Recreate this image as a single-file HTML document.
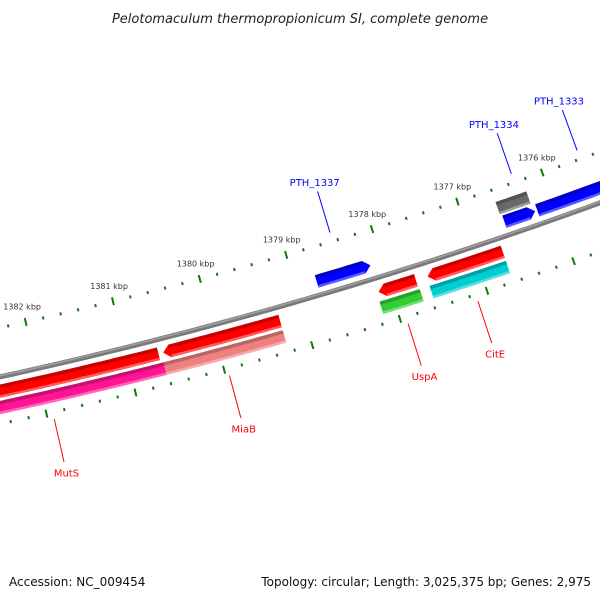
<!DOCTYPE html>
<html><head><meta charset="utf-8"><style>
html,body{margin:0;padding:0;background:#fff;}
svg{display:block;font-family:"DejaVu Sans","Liberation Sans",sans-serif;}
</style></head><body>
<svg id="map" width="600" height="600" viewBox="0 0 600 600" xmlns="http://www.w3.org/2000/svg">
<rect width="600" height="600" fill="#fff"/>
<text x="300" y="23" text-anchor="middle" font-size="13" font-style="italic" fill="#222">Pelotomaculum thermopropionicum SI, complete genome</text>
<g id="ticks"></g>
<g id="backbone"></g>
<g id="feats"></g>
<g id="labels"></g>
<text x="9" y="586" font-size="12" fill="#111">Accession: NC_009454</text>
<text x="591" y="586" text-anchor="end" font-size="12" fill="#111">Topology: circular; Length: 3,025,375 bp; Genes: 2,975</text>
</svg>
<script>
// data
const featStart = [1380652, 1379266, 1377706, 1376700, 1380622, 1379266, 1377695, 1376700, 1378136, 1376215, 1374000, 1376237];
const featEnd   = [1383000, 1380599, 1378136, 1377571, 1383000, 1380622, 1378158, 1377582, 1378757, 1376576, 1376192, 1376599];
const featTrack = [14, 14, 14, 14, 30, 30, 30, 30, -14, -14, -14, -29];
const featDir   = ['N', 'L', 'L', 'L', 'N', 'N', 'N', 'N', 'R', 'R', 'N', 'N'];
const featColor = ['#ff0000', '#ff0000', '#ff0000', '#ff0000', '#ff1493', '#f08080', '#32cd32', '#00ced1', '#0000ff', '#0000ff', '#0000ff', '#696969'];
const labelText = ['PTH_1337', 'PTH_1334', 'PTH_1333', 'UspA', 'CitE', 'MiaB', 'MutS'];
const labelBp   = [1378460, 1376330, 1375550, 1377930, 1377130, 1379960, 1381930];
const labelSide = [-1, -1, -1, 1, 1, 1, 1];
const tickStep = 200;
const tickFrom = 1373800, tickTo = 1383600;

// geometry
const cx = -985, cy = -4140, R = 4623, k = 1.96e-5;
const th0 = Math.atan2(229 - cy, 372 - cx);
function ang(bp){ return th0 + (bp - 1378000) * k; }
function pt(bp, r){ const a = ang(bp); return [cx + r * Math.cos(a), cy + r * Math.sin(a)]; }
const NS = 'http://www.w3.org/2000/svg';
function mk(tag, attrs, parent){ const e = document.createElementNS(NS, tag); for (const a in attrs) e.setAttribute(a, attrs[a]); parent.appendChild(e); return e; }
function arcPts(b1, b2, r, n){ const p = []; for (let i = 0; i <= n; i++){ const b = b1 + (b2 - b1) * i / n; p.push(pt(b, r)); } return p; }
function poly(pts){ return pts.map(p => p[0].toFixed(1) + ',' + p[1].toFixed(1)).join(' '); }

// backbone
const bb = document.getElementById('backbone');
let l1 = mk('polyline', {points: poly(arcPts(1373000, 1384500, R, 60)), fill: 'none', stroke: '#7a7a7a', 'stroke-width': 5}, bb);


let l2 = mk('polyline', {points: poly(arcPts(1373000, 1384500, R - 1, 60)), fill: 'none', stroke: '#a0a0a0', 'stroke-width': 1.5}, bb);



// ticks
const tg = document.getElementById('ticks');
for (let b = tickFrom; b <= tickTo; b += tickStep){
  const major = (b % 1000 === 0);
  for (const side of [-1, 1]){
    const rc = R + side * (side < 0 ? 48 : 46);
    const hh = major ? 4 : 1.5;
    const p1 = pt(b, rc - hh), p2 = pt(b, rc + hh);
    const t = mk('line', {x1: p1[0], y1: p1[1], x2: p2[0], y2: p2[1], stroke: '#0b7a0b', 'stroke-width': 2}, tg);
    
    
  }
  if (major){
    const p = pt(b, R - 64);
    const tx = mk('text', {x: p[0], y: p[1] + 3, 'text-anchor': 'middle', 'font-size': 8, fill: '#333'}, tg);
    tx.textContent = (b / 1000) + ' kbp';
    
    
  }
}

// features
const fg = document.getElementById('feats');
const headBp = 7 / (R * k);
const h = 6.5;
for (let i = 0; i < featStart.length; i++){
  const s = featStart[i], e = featEnd[i], r = R + featTrack[i], d = featDir[i], c = featColor[i];
  let bs = s, be = e;
  if (d === 'R') bs = s + headBp;
  if (d === 'L') be = e - headBp;
  let pts = arcPts(bs, be, r + h, 30);
  if (d === 'L'){ pts.push(pt(e, r)); }
  pts = pts.concat(arcPts(be, bs, r - h, 30));
  if (d === 'R'){ pts.push(pt(s, r)); }
  const g = mk('g', {}, fg);
  
  
  mk('polygon', {points: poly(pts), fill: c}, g);
  const dark = arcPts(bs, be, r - h, 30).concat(arcPts(be, bs, r - h + 3.5, 30));
  mk('polygon', {points: poly(dark), fill: '#000', 'fill-opacity': 0.22}, g);
  const light = arcPts(bs, be, r + h - 2.5, 30).concat(arcPts(be, bs, r + h, 30));
  mk('polygon', {points: poly(light), fill: '#fff', 'fill-opacity': 0.35}, g);
}

// labels
const lg = document.getElementById('labels');
for (let i = 0; i < labelText.length; i++){
  const side = labelSide[i], b = labelBp[i];
  const col = side < 0 ? '#0000ff' : '#ff0000';
  const r1 = side < 0 ? R - 57 : R + 53;
  const r2 = side < 0 ? R - 100 : R + 97;
  const r3 = side < 0 ? R - 110 : R + 108;
  const p1 = pt(b, r1), p2 = pt(b, r2);
  const ln = mk('line', {x1: p1[0], y1: p1[1], x2: p2[0], y2: p2[1], stroke: col, 'stroke-width': 1}, lg);
  
  
  const p = pt(b, r3);
  const tx = mk('text', {x: p[0], y: p[1] + 4, 'text-anchor': 'middle', 'font-size': 10, fill: col}, lg);
  tx.textContent = labelText[i];
  
  
}
</script>
</body></html>
